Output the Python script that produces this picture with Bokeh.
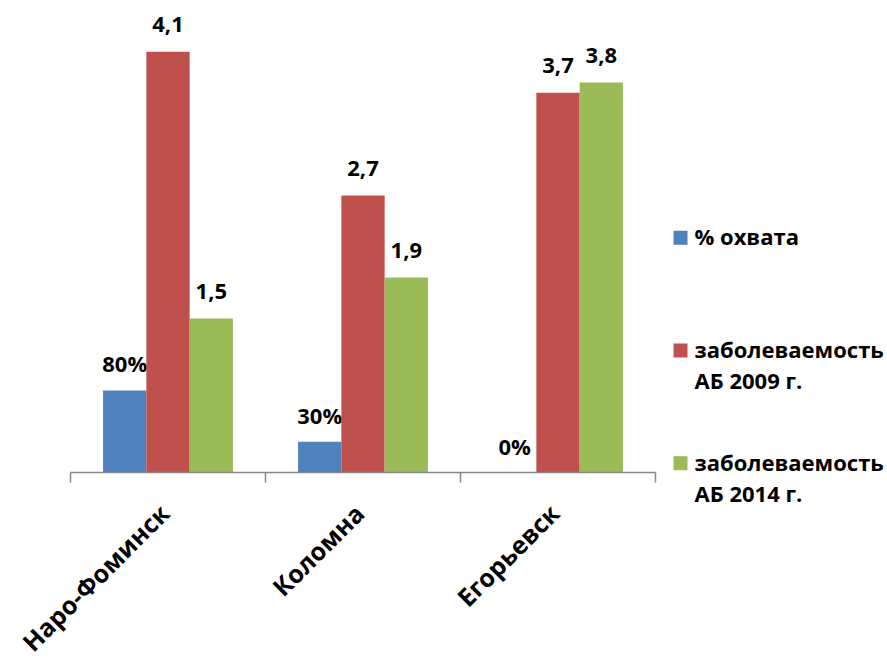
from math import pi

from bokeh.core.properties import value
from bokeh.embed import file_html
from bokeh.models import ColumnDataSource, Range1d
from bokeh.plotting import figure
from bokeh.resources import INLINE
from bokeh.transform import dodge

# --- data -------------------------------------------------------------
cities = ["Наро-Фоминск", "Коломна", "Егорьевск"]
coverage_pct = [80, 30, 0]          # % охвата
incidence_2009 = [4.1, 2.7, 3.7]    # заболеваемость АБ 2009 г.
incidence_2014 = [1.5, 1.9, 3.8]    # заболеваемость АБ 2014 г.
series_names = ["% охвата", "заболеваемость\nАБ 2009 г.", "заболеваемость\nАБ 2014 г."]
colors = ["#4F81BD", "#C0504D", "#9BBB59"]

FONT = value("Open Sans")
AXIS_COLOR = "#868686"

# --- canvas geometry --------------------------------------------------
W, H = 887, 659
X0_PX, UNIT_PX = 70, 195       # left end of the category axis, width of one category
BASE_PX, Y_TOP = 472, 4.6      # pixel row of the zero line, value at the top edge


def ru_num(v):
    return f"{v:.1f}".replace(".", ",")


# each city occupies one unit on the x scale; its group is centred at i + 0.5
centers = [i + 0.5 for i in range(len(cities))]
edges = list(range(len(cities) + 1))

source = ColumnDataSource(dict(
    pos=centers,
    cov=[c / 100 for c in coverage_pct],
    cov_lbl=[f"{c}%" for c in coverage_pct],
    inc09=incidence_2009,
    inc09_lbl=[ru_num(v) for v in incidence_2009],
    inc14=incidence_2014,
    inc14_lbl=[ru_num(v) for v in incidence_2014],
))

p = figure(
    width=W, height=H,
    x_range=Range1d(-X0_PX / UNIT_PX, (W - X0_PX) / UNIT_PX),
    y_range=Range1d(-Y_TOP * (H - BASE_PX) / BASE_PX, Y_TOP),
    x_axis_location=None, y_axis_location=None,
    toolbar_location=None, output_backend="svg",
    outline_line_color=None,
    min_border=0, min_border_left=0, min_border_right=0,
    min_border_top=0, min_border_bottom=0,
)
p.xgrid.grid_line_color = None
p.ygrid.grid_line_color = None
# pixel-based ranges for the axis decorations and the legend block
p.extra_x_ranges = {"px": Range1d(0, W)}
p.extra_y_ranges = {"px": Range1d(H, 0)}

# --- bars with value labels -------------------------------------------
bw = 0.222
cols = [("cov", "cov_lbl", -bw), ("inc09", "inc09_lbl", 0.0), ("inc14", "inc14_lbl", bw)]
for (top, lbl, off), color in zip(cols, colors):
    p.vbar(x=dodge("pos", off), top=top, width=bw,
           source=source, fill_color=color, line_color=None)
    p.text(x=dodge("pos", off), y=top, text=lbl,
           source=source, text_align="center", text_baseline="alphabetic",
           y_offset=-27, text_font=FONT, text_font_style="bold",
           text_font_size="22px", text_color="black")

# --- category axis: line, boundary ticks, rotated names ---------------
p.segment(x0=[edges[0]], x1=[edges[-1]], y0=[0], y1=[0],
          line_color=AXIS_COLOR, line_width=1.5)
p.segment(x0=edges, x1=edges, y0=[BASE_PX] * len(edges), y1=[BASE_PX + 10] * len(edges),
          y_range_name="px", line_color=AXIS_COLOR, line_width=1.5)
p.text(x=centers, y=[BASE_PX + 36] * len(cities), text=cities,
       y_range_name="px", x_offset=-4, angle=pi / 4,
       text_align="right", text_baseline="middle",
       text_font=FONT, text_font_style="bold", text_font_size="25px",
       text_color="black")

# --- legend -----------------------------------------------------------
first_y, step, line_gap = 237.3, 112.7, 31
item_y = [first_y + i * step for i in range(len(series_names))]
p.rect(x=[680] * len(item_y), y=item_y, width=14, height=14,
       x_range_name="px", y_range_name="px",
       fill_color=colors, line_color=None)

line_txt, line_y = [], []
for name, y in zip(series_names, item_y):
    for k, line in enumerate(name.split("\n")):
        line_txt.append(line)
        line_y.append(y + 7.3 + k * line_gap - 9)
p.text(x=[694] * len(line_txt), y=line_y, text=line_txt,
       x_range_name="px", y_range_name="px",
       text_align="left", text_baseline="alphabetic",
       text_font=FONT, text_font_style="bold", text_font_size="22px",
       text_color="black")

open("out.html", "w").write(file_html(p, INLINE))
